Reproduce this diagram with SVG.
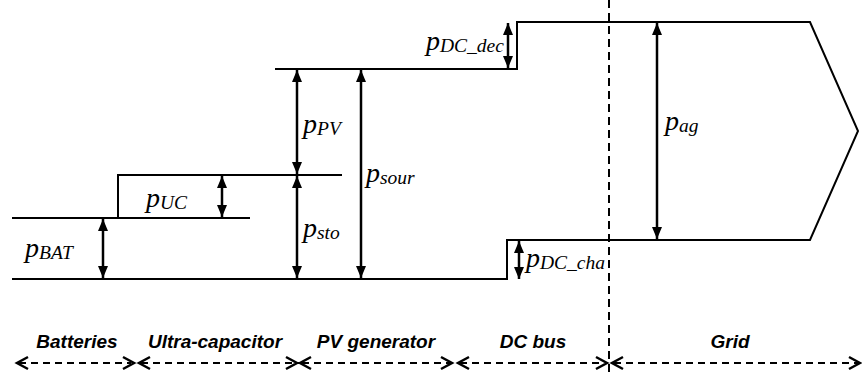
<svg xmlns="http://www.w3.org/2000/svg" width="862" height="376" viewBox="0 0 862 376">
<style>
.ln{fill:none;stroke:#000;stroke-width:2}
.ar{fill:none;stroke:#000;stroke-width:2.5;marker-start:url(#h);marker-end:url(#h)}
.dash{fill:none;stroke:#000;stroke-width:2;stroke-dasharray:8 5}
.da{fill:none;stroke:#000;stroke-width:2;stroke-dasharray:7 5}
.chev{fill:none;stroke:#000;stroke-width:2.5}
.p{font-family:"Liberation Serif","Times New Roman",serif;font-style:italic;font-size:28px}
.s{font-size:19.5px}
.lab{font-family:"Liberation Sans",Arial,sans-serif;font-style:italic;font-weight:bold;font-size:19px;text-anchor:middle}
</style>
<defs>
<marker id="h" viewBox="0 0 12 10" refX="12" refY="5" markerWidth="12" markerHeight="10" markerUnits="userSpaceOnUse" orient="auto-start-reverse">
<path d="M0,0 L12,5 L0,10 Z" fill="#000"/>
</marker>
</defs>
<g id="outline">
<path class="ln" d="M275,69 H517 V22 H810 L858,131 L810,240 H507 V279 H12"/>
<path class="ln" d="M342,175 H118 V218"/>
<path class="ln" d="M12,218 H250"/>
</g>
<line id="boundary" class="dash" x1="609" y1="0" x2="609" y2="376"/>
<g id="connectors">
<line class="ar" x1="103" y1="219" x2="103" y2="278"/>
<line class="ar" x1="222" y1="176" x2="222" y2="217"/>
<line class="ar" x1="297" y1="70" x2="297" y2="174"/>
<line class="ar" x1="297" y1="176" x2="297" y2="278"/>
<line class="ar" x1="361" y1="70" x2="361" y2="278"/>
<line class="ar" x1="508" y1="23" x2="508" y2="68"/>
<line class="ar" x1="519" y1="241" x2="519" y2="279"/>
<line class="ar" x1="657" y1="23" x2="657" y2="239"/>
</g>
<g id="labels">
<text class="p" x="25" y="257">p<tspan class="s" dy="2">BAT</tspan></text>
<text class="p" x="146" y="207">p<tspan class="s" dy="2">UC</tspan></text>
<text class="p" x="303" y="133">p<tspan class="s" dy="2">PV</tspan></text>
<text class="p" x="303" y="237">p<tspan class="s" dy="2">sto</tspan></text>
<text class="p" x="366" y="182">p<tspan class="s" dy="2">sour</tspan></text>
<text class="p" x="426" y="50">p<tspan class="s" dy="2">DC_dec</tspan></text>
<text class="p" x="526" y="267">p<tspan class="s" dy="2">DC_cha</tspan></text>
<text class="p" x="665" y="130">p<tspan class="s" dy="2">ag</tspan></text>
</g>
<g id="sections">
<text class="lab" x="77" y="348">Batteries</text>
<text class="lab" x="215" y="348">Ultra-capacitor</text>
<text class="lab" x="376" y="348">PV generator</text>
<text class="lab" x="533" y="348">DC bus</text>
<text class="lab" x="730" y="348">Grid</text>
<g id="ranges">
<path class="da" d="M19,363 H131 M141,363 H295 M302,363 H450 M460,363 H604 M614,363 H858"/>
<path class="chev" d="M28,357 L17,363 L28,369 M123,357 L134,363 L123,369 M150,357 L139,363 L150,369 M286,357 L297,363 L286,369 M311,357 L300,363 L311,369 M441,357 L452,363 L441,369 M469,357 L458,363 L469,369 M596,357 L607,363 L596,369 M623,357 L612,363 L623,369 M849,357 L860,363 L849,369"/>
</g>
</g>
</svg>
